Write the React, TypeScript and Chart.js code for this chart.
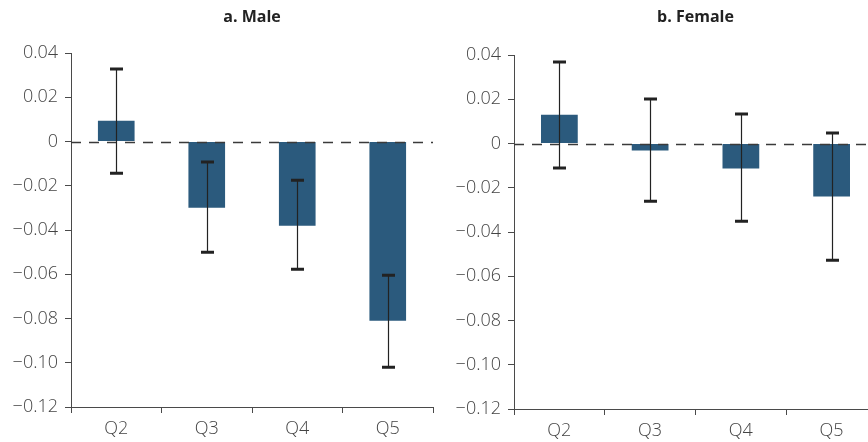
import React, { useEffect, useRef } from "react";
import { Chart, registerables } from "chart.js";
Chart.register(...registerables);

const categories = ["Q2", "Q3", "Q4", "Q5"];
const maleValues = [0.0094, -0.0299, -0.0381, -0.081];
const maleLow = [-0.0143, -0.05, -0.0577, -0.102];
const maleHigh = [0.0328, -0.0093, -0.0175, -0.0605];
const femaleValues = [0.013, -0.0032, -0.0113, -0.024];
const femaleLow = [-0.0111, -0.0261, -0.0351, -0.0528];
const femaleHigh = [0.0368, 0.0201, 0.0133, 0.0047];
const yTicks = [0.04, 0.02, 0, -0.02, -0.04, -0.06, -0.08, -0.1, -0.12];
const titles = ["a. Male", "b. Female"];

const FONT = "'Open Sans', sans-serif";
const AXIS = "#4a4a4a";
const BAR = "#2b5a7d";

type Panel = {
  values: number[];
  low: number[];
  high: number[];
  title: string;
  axisWidth: number;
  rightPad: number;
  topPad: number;
  xHeight: number;
};

function fmt(v: number): string {
  if (Math.abs(v) < 1e-9) return "0";
  const s = Math.abs(v).toFixed(2);
  return v < 0 ? "\u2212" + s : s;
}

function makeChart(canvas: HTMLCanvasElement, p: Panel) {
  const overlay = {
    id: "overlay",
    afterDatasetsDraw(chart: any) {
      const { ctx, chartArea, scales } = chart;
      const y = scales.y;
      const y0 = Math.round(y.getPixelForValue(0)) + 0.5;
      ctx.save();
      ctx.strokeStyle = "#3a3a3a";
      ctx.lineWidth = 1.3;
      ctx.setLineDash([10, 8]);
      ctx.beginPath();
      ctx.moveTo(chartArea.left, y0);
      ctx.lineTo(chartArea.right, y0);
      ctx.stroke();
      ctx.setLineDash([]);
      const meta = chart.getDatasetMeta(0);
      meta.data.forEach((bar: any, i: number) => {
        const cx = Math.round(bar.x) + 0.5;
        const yl = y.getPixelForValue(p.low[i]);
        const yh = y.getPixelForValue(p.high[i]);
        ctx.strokeStyle = "#222";
        ctx.lineWidth = 1.2;
        ctx.beginPath();
        ctx.moveTo(cx, yh);
        ctx.lineTo(cx, yl);
        ctx.stroke();
        ctx.lineWidth = 3;
        ctx.beginPath();
        ctx.moveTo(cx - 6.5, yh);
        ctx.lineTo(cx + 6.5, yh);
        ctx.moveTo(cx - 6.5, yl);
        ctx.lineTo(cx + 6.5, yl);
        ctx.stroke();
      });
      ctx.fillStyle = "#222";
      ctx.font = `bold 16px ${FONT}`;
      ctx.textAlign = "center";
      ctx.textBaseline = "middle";
      ctx.fillText(p.title, (chartArea.left + chartArea.right) / 2, 17);
      ctx.restore();
    },
  };

  return new Chart(canvas, {
    type: "bar",
    data: {
      labels: categories,
      datasets: [
        {
          data: p.values,
          backgroundColor: BAR,
          borderWidth: 0,
          categoryPercentage: 1,
          barPercentage: 0.405,
        },
      ],
    },
    plugins: [overlay],
    options: {
      responsive: false,
      animation: false,
      events: [],
      layout: { padding: { top: p.topPad, right: p.rightPad, left: 0, bottom: 0 } },
      plugins: {
        legend: { display: false },
        title: { display: false },
        tooltip: { enabled: false },
      },
      scales: {
        x: {
          offset: true,
          grid: {
            offset: true,
            drawOnChartArea: false,
            drawTicks: true,
            tickLength: 6,
            color: AXIS,
            lineWidth: 1,
          },
          border: { display: true, color: AXIS, width: 1 },
          ticks: {
            color: "#444",
            font: { family: FONT, size: 18, weight: "300" },
            padding: 5,
            maxRotation: 0,
          },
          afterFit(scale: any) {
            scale.height = p.xHeight;
            scale.paddingLeft = 0;
            scale.paddingRight = 0;
          },
        },
        y: {
          min: -0.12,
          max: 0.04,
          grid: {
            drawOnChartArea: false,
            drawTicks: true,
            tickLength: 6,
            color: AXIS,
            lineWidth: 1,
          },
          border: { display: true, color: AXIS, width: 1 },
          ticks: {
            color: "#444",
            font: { family: FONT, size: 18, weight: "300" },
            padding: 7,
            callback: (v: any) => fmt(Number(v)),
          },
          afterBuildTicks(scale: any) {
            scale.ticks = yTicks.map((v) => ({ value: v }));
          },
          afterFit(scale: any) {
            scale.width = p.axisWidth;
            scale.paddingTop = 0;
            scale.paddingBottom = 0;
          },
        },
      },
    },
  } as any);
}

export default function App() {
  const leftRef = useRef<HTMLCanvasElement>(null);
  const rightRef = useRef<HTMLCanvasElement>(null);

  useEffect(() => {
    document.body.style.margin = "0";
    const c1 = makeChart(leftRef.current!, {
      values: maleValues,
      low: maleLow,
      high: maleHigh,
      title: titles[0],
      axisWidth: 71,
      rightPad: 7,
      topPad: 53,
      xHeight: 35,
    });
    const c2 = makeChart(rightRef.current!, {
      values: femaleValues,
      low: femaleLow,
      high: femaleHigh,
      title: titles[1],
      axisWidth: 74,
      rightPad: 3,
      topPad: 55,
      xHeight: 33,
    });
    return () => {
      c1.destroy();
      c2.destroy();
    };
  }, []);

  return (
    <div
      style={{
        position: "absolute",
        left: 0,
        top: 0,
        width: 868,
        height: 442,
        overflow: "hidden",
        background: "#fff",
      }}
    >
      <canvas
        ref={leftRef}
        width={440}
        height={442}
        style={{ position: "absolute", left: 0, top: 0, width: 440, height: 442 }}
      />
      <canvas
        ref={rightRef}
        width={440}
        height={442}
        style={{ position: "absolute", left: 440, top: 0, width: 440, height: 442 }}
      />
    </div>
  );
}
